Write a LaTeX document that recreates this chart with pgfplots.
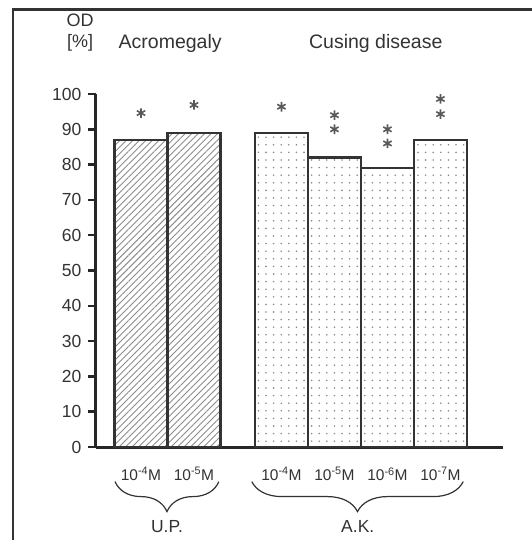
\documentclass[border=0pt]{standalone}
\usepackage{fontspec}
\setmainfont{Liberation Sans}
\usepackage{pgfplots}
\pgfplotsset{compat=1.18}
\usetikzlibrary{patterns.meta,decorations.pathreplacing}
\definecolor{ink}{gray}{0.2}
\begin{document}
\begin{tikzpicture}
\useasboundingbox (-141pt,-93pt) rectangle (390pt,447pt);
\draw[line width=2.6pt, ink] (-128pt,-100pt) -- (-128pt,437.5pt) -- (400pt,437.5pt);
\begin{axis}[
  anchor=origin, at={(0pt,0pt)},
  x=53pt, y=3.53pt,
  xmin=-0.85, xmax=6.83, ymin=0, ymax=100,
  axis x line*=bottom, axis y line*=left,
  axis line style={line width=3pt, black!85},
  clip=false,
  ytick={0,10,...,100},
  tick align=outside,
  major tick length=8pt,
  ytick style={line width=2.5pt, black!85},
  yticklabel style={font=\fontsize{17.5}{18}\selectfont, text=ink, xshift=-3pt},
  /pgf/number format/assume math mode=true,
  xtick={0,1,2.65,3.65,4.65,5.65},
  xticklabels={10\textsuperscript{-4}M,10\textsuperscript{-5}M,10\textsuperscript{-4}M,10\textsuperscript{-5}M,10\textsuperscript{-6}M,10\textsuperscript{-7}M},
  xtick style={draw=none},
  xticklabel style={font=\fontsize{15.5}{16}\selectfont, text=ink, yshift=-9pt},
]
\addplot[ybar, bar width=1, bar shift=0pt, draw=ink, line width=2.6pt,
  pattern={Lines[angle=45,distance=4.6pt,line width=0.9pt]}, pattern color=gray!90]
  coordinates {(0,87) (1,89)};
\addplot[ybar, bar width=1, bar shift=0pt, draw=ink, line width=2.6pt,
  pattern={Dots[distance=7.6pt,radius=0.9pt]}, pattern color=gray!90]
  coordinates {(2.65,89) (3.65,82) (4.65,79) (5.65,87)};
\addplot[only marks, mark=asterisk, mark size=4.8pt, mark options={line width=1.6pt, draw=gray!70!black}]
  coordinates {(0,94.6) (1,96.9) (2.65,96.4) (3.65,94) (3.65,90) (4.65,90) (4.65,86) (5.65,98.6) (5.65,94.3)};
\node[font=\fontsize{18}{18}\selectfont, text=ink] at (axis cs:-1.15,120.8) {OD};
\node[font=\fontsize{18}{18}\selectfont, text=ink] at (axis cs:-1.15,114.4) {[\%]};
\node[font=\fontsize{19.5}{20}\selectfont, text=ink] at (axis cs:0.55,114.4) {Acromegaly};
\node[font=\fontsize{19.5}{20}\selectfont, text=ink] at (axis cs:4.43,114.4) {Cusing disease};
\draw[ink, line width=1.2pt, decorate, decoration={brace, mirror, amplitude=30pt}] (axis cs:-0.49,-9.8) -- (axis cs:1.47,-9.8);
\draw[ink, line width=1.2pt, decorate, decoration={brace, mirror, amplitude=30pt}] (axis cs:2.09,-9.8) -- (axis cs:6.08,-9.8);
\node[font=\fontsize{17.5}{18}\selectfont, text=ink, anchor=north] at (axis cs:0.49,-19.8) {U.P.};
\node[font=\fontsize{17.5}{18}\selectfont, text=ink, anchor=north] at (axis cs:4.09,-19.8) {A.K.};
\end{axis}
\end{tikzpicture}
\end{document}
